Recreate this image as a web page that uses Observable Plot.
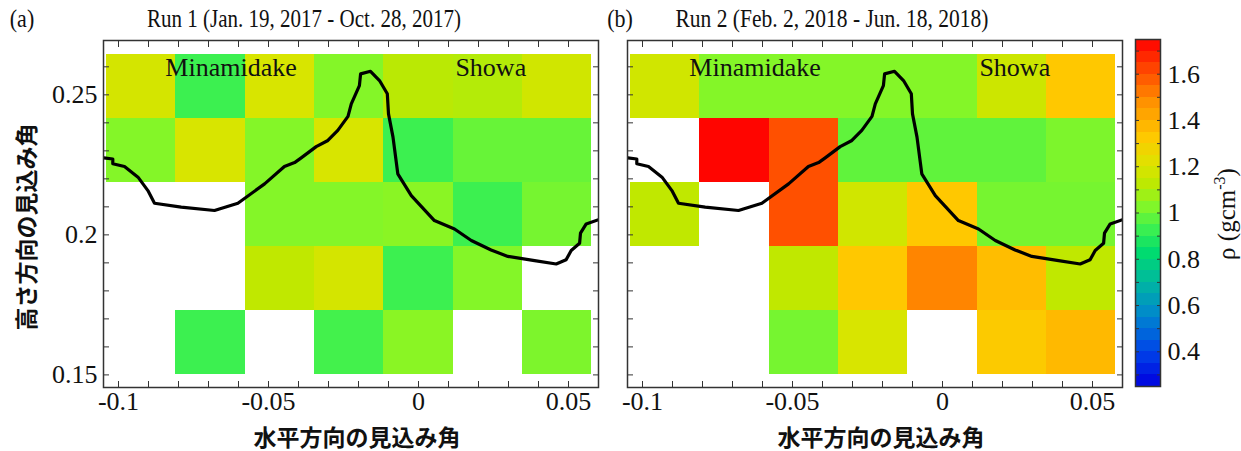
<!DOCTYPE html>
<html><head><meta charset="utf-8">
<script src="https://cdn.jsdelivr.net/npm/d3@7"></script>
<script src="https://cdn.jsdelivr.net/npm/@observablehq/plot@0.6"></script>
<style>
body{margin:0;background:#fff;}
#wrap{position:relative;width:1241px;height:451px;overflow:hidden;background:#fff;}
.abs{position:absolute;}
.t{position:absolute;line-height:1;white-space:nowrap;color:#111;}
.serif{font-family:"Liberation Serif","Times New Roman",serif;}
.jp{font-family:"Noto Sans CJK JP",sans-serif;font-weight:bold;font-size:23px;}
svg text{font-family:"Liberation Serif","Times New Roman",serif;}
</style></head><body><div id="wrap"></div>
<script>
// ---- data ----
const xCenters = [-0.0924, -0.0693, -0.0462, -0.0231, 0, 0.0231, 0.0462];
const yCenters = [0.2531, 0.2302, 0.2073, 0.1844, 0.1615]; // top -> bottom
const cellW = 0.0231, cellH = 0.0229;
const run1 = [
  [1.18, 0.93, 1.19, 1.03, 1.12, 1.11, 1.17],
  [1.03, 1.19, 1.03, 1.19, 0.93, 0.99, 0.99],
  [null, null, 1.03, 1.03, 1.04, 0.93, 1.01],
  [null, null, 1.13, 1.18, 0.93, 1.03, null],
  [null, 0.93, null, 0.94, 1.04, null, 1.02]
];
const run2 = [
  [1.17, 1.03, 1.03, 1.03, 1.03, 1.16, 1.33],
  [null, 1.74, 1.60, 0.98, 0.98, 0.98, 1.02],
  [1.13, null, 1.60, 1.17, 1.33, 1.01, 1.01],
  [null, null, 1.13, 1.33, 1.50, 1.36, 1.13],
  [null, null, 1.01, 1.19, null, 1.32, 1.37]
];
// topographic profile (x, y)
const profileX = [-0.1049,-0.1019,-0.1019,-0.0980,-0.0935,-0.0902,-0.0880,-0.0791,-0.0680,-0.0602,-0.0513,-0.0447,-0.0413,-0.0391,-0.0341,-0.0302,-0.0269,-0.0235,-0.0224,-0.0197,-0.0193,-0.0160,-0.0130,-0.0104,-0.0100,-0.0085,-0.0069,-0.0024,0.0053,0.0120,0.0176,0.0242,0.0298,0.0387,0.0459,0.0492,0.0509,0.0537,0.0540,0.0559,0.0600];
const profileY = [0.2275,0.2271,0.2254,0.2244,0.2206,0.2158,0.2113,0.2099,0.2087,0.2113,0.2182,0.2244,0.2258,0.2275,0.2315,0.2337,0.2373,0.2423,0.2468,0.2533,0.2575,0.2584,0.2551,0.2504,0.2432,0.2349,0.2218,0.2140,0.2051,0.2021,0.1980,0.1946,0.1923,0.1908,0.1896,0.1911,0.1944,0.1970,0.2006,0.2039,0.2054];
const volcanoNames = ["Minamidake", "Showa"];
const volcanoX = [-0.0625, 0.0241];
const volcanoY = [0.2597, 0.2597];
const xMajor = [-0.1, -0.05, 0, 0.05];
const xMinor = [-0.1,-0.09,-0.08,-0.07,-0.06,-0.05,-0.04,-0.03,-0.02,-0.01,0,0.01,0.02,0.03,0.04,0.05];
const yMajor = [0.15, 0.2, 0.25];
const yMinor = [0.15,0.16,0.17,0.18,0.19,0.2,0.21,0.22,0.23,0.24,0.25,0.26];
const cbMajor = [0.4, 0.6, 0.8, 1, 1.2, 1.4, 1.6];
const cbMinor = [0.3,0.4,0.5,0.6,0.7,0.8,0.9,1,1.1,1.2,1.3,1.4,1.5,1.6,1.7];
const cbBands = d3.range(0.25, 1.7501, 0.05).slice(0, 30);
// color palette stops
const stops = [0.25, 0.40, 0.55, 0.70, 0.83, 0.93, 1.03, 1.13, 1.20, 1.33, 1.48, 1.60, 1.75];
const stopColors = ["#0000e0","#0044e8","#0084d0","#00b8a0","#00dc6e","#3cf050","#84f628","#c0e800","#dce400","#ffc800","#ff9000","#ff5000","#ff0000"];

// ---- build ----
const wrap = document.getElementById("wrap");
const xDomain = [-0.105, 0.06], yDomain = [0.1455, 0.2694];
const colorOpts = {type: "linear", domain: stops, range: stopColors, clamp: true};
const serif = "'Liberation Serif','Times New Roman',serif";
const baseStyle = {fontFamily: serif, fontSize: "25px", background: "transparent", color: "#111", overflow: "visible"};
const profile = profileX.map((x, i) => ({x, y: profileY[i]}));
const labels = volcanoNames.map((name, i) => ({name, x: volcanoX[i], y: volcanoY[i]}));

function cellsOf(run) {
  const out = [];
  run.forEach((row, i) => row.forEach((v, j) => {
    if (v != null) out.push({x1: xCenters[j] - cellW / 2, x2: xCenters[j] + cellW / 2, y1: yCenters[i] - cellH / 2, y2: yCenters[i] + cellH / 2, v});
  }));
  return out;
}
const tickStroke = "#333";
function panel(run, width, ml, mr, showY) {
  return Plot.plot({
    width, height: 451, marginLeft: ml, marginRight: mr, marginTop: 40, marginBottom: 64,
    x: {domain: xDomain, label: null}, y: {domain: yDomain, label: null}, color: colorOpts,
    style: baseStyle,
    marks: [
      Plot.rect(cellsOf(run), {x1: "x1", x2: "x2", y1: "y1", y2: "y2", fill: "v", shapeRendering: "crispEdges"}),
      Plot.line(profile, {x: "x", y: "y", stroke: "#000", strokeWidth: 3.2, clip: true, strokeLinejoin: "round"}),
      Plot.text(labels, {x: "x", y: "y", text: "name", fontSize: 26, fontFamily: serif, fill: "#111"}),
      Plot.axisX({anchor: "bottom", ticks: xMinor, tickSize: -6, tickFormat: () => "", label: null, stroke: tickStroke}),
      Plot.axisX({anchor: "top", ticks: xMinor, tickSize: -6, tickFormat: () => "", label: null, stroke: tickStroke}),
      Plot.axisY({anchor: "left", ticks: yMinor, tickSize: -6, tickFormat: () => "", label: null, stroke: tickStroke}),
      Plot.axisY({anchor: "right", ticks: yMinor, tickSize: -6, tickFormat: () => "", label: null, stroke: tickStroke}),
      Plot.axisX({anchor: "bottom", ticks: xMajor, tickSize: 0, tickPadding: 4, tickFormat: d => String(d), label: null, fontSize: 26, fontFamily: serif, fill: "#111"}),
      showY ? Plot.axisY({anchor: "left", ticks: yMajor, tickSize: 0, tickPadding: 6, tickFormat: d => String(d), label: null, fontSize: 26, fontFamily: serif, fill: "#111"}) : null,
      Plot.frame({stroke: "#333", strokeWidth: 1.5})
    ]
  });
}
function place(node, left) {
  const d = document.createElement("div");
  d.className = "abs"; d.style.left = left + "px"; d.style.top = "0px";
  d.appendChild(node); wrap.appendChild(d);
}
place(panel(run1, 600, 103, 2, true), 0);
place(panel(run2, 527, 30, 2, false), 597);

const cb = Plot.plot({
  width: 141, height: 451, marginLeft: 35, marginRight: 81, marginTop: 39, marginBottom: 65,
  x: {domain: [0, 1], axis: null}, y: {domain: [0.25, 1.75], label: null}, color: colorOpts,
  style: baseStyle,
  marks: [
    Plot.rect(cbBands, {x1: 0, x2: 1, y1: d => d, y2: d => d + 0.05, fill: d => d + 0.025, shapeRendering: "crispEdges"}),
    Plot.axisY({anchor: "left", ticks: cbMinor, tickSize: -4, tickFormat: () => "", label: null, stroke: tickStroke}),
    Plot.axisY({anchor: "right", ticks: cbMinor, tickSize: -4, tickFormat: () => "", label: null, stroke: tickStroke}),
    Plot.axisY({anchor: "right", ticks: cbMajor, tickSize: 0, tickPadding: 7, tickFormat: d => String(d), label: null, fontSize: 26, fontFamily: serif, fill: "#111"}),
    Plot.frame({stroke: "#333", strokeWidth: 1.5})
  ]
});
place(cb, 1100);

function addText(html, cls, cx, cy, size, transform) {
  const d = document.createElement("div");
  d.className = "t " + cls;
  d.innerHTML = html;
  if (size) d.style.fontSize = size + "px";
  d.style.left = cx + "px"; d.style.top = cy + "px";
  d.style.transform = "translate(-50%,-50%)" + (transform ? " " + transform : "");
  wrap.appendChild(d);
}
addText("(a)", "serif", 22, 18, 25, "scaleX(0.88)");
addText("Run 1 (Jan. 19, 2017 - Oct. 28, 2017)", "serif", 304, 18, 25, "scaleX(0.84)");
addText("(b)", "serif", 620, 18, 25, "scaleX(0.88)");
addText("Run 2 (Feb. 2, 2018 - Jun. 18, 2018)", "serif", 832, 18, 25, "scaleX(0.86)");
addText("水平方向の見込み角", "jp", 357, 436);
addText("水平方向の見込み角", "jp", 881, 436);
addText("高さ方向の見込み角", "jp", 25, 227, null, "rotate(-90deg)");
addText("ρ (gcm<sup style='font-size:16px;vertical-align:10px'>-3</sup>)", "serif", 1225, 214, 25, "rotate(-90deg)");
</script></body></html>
